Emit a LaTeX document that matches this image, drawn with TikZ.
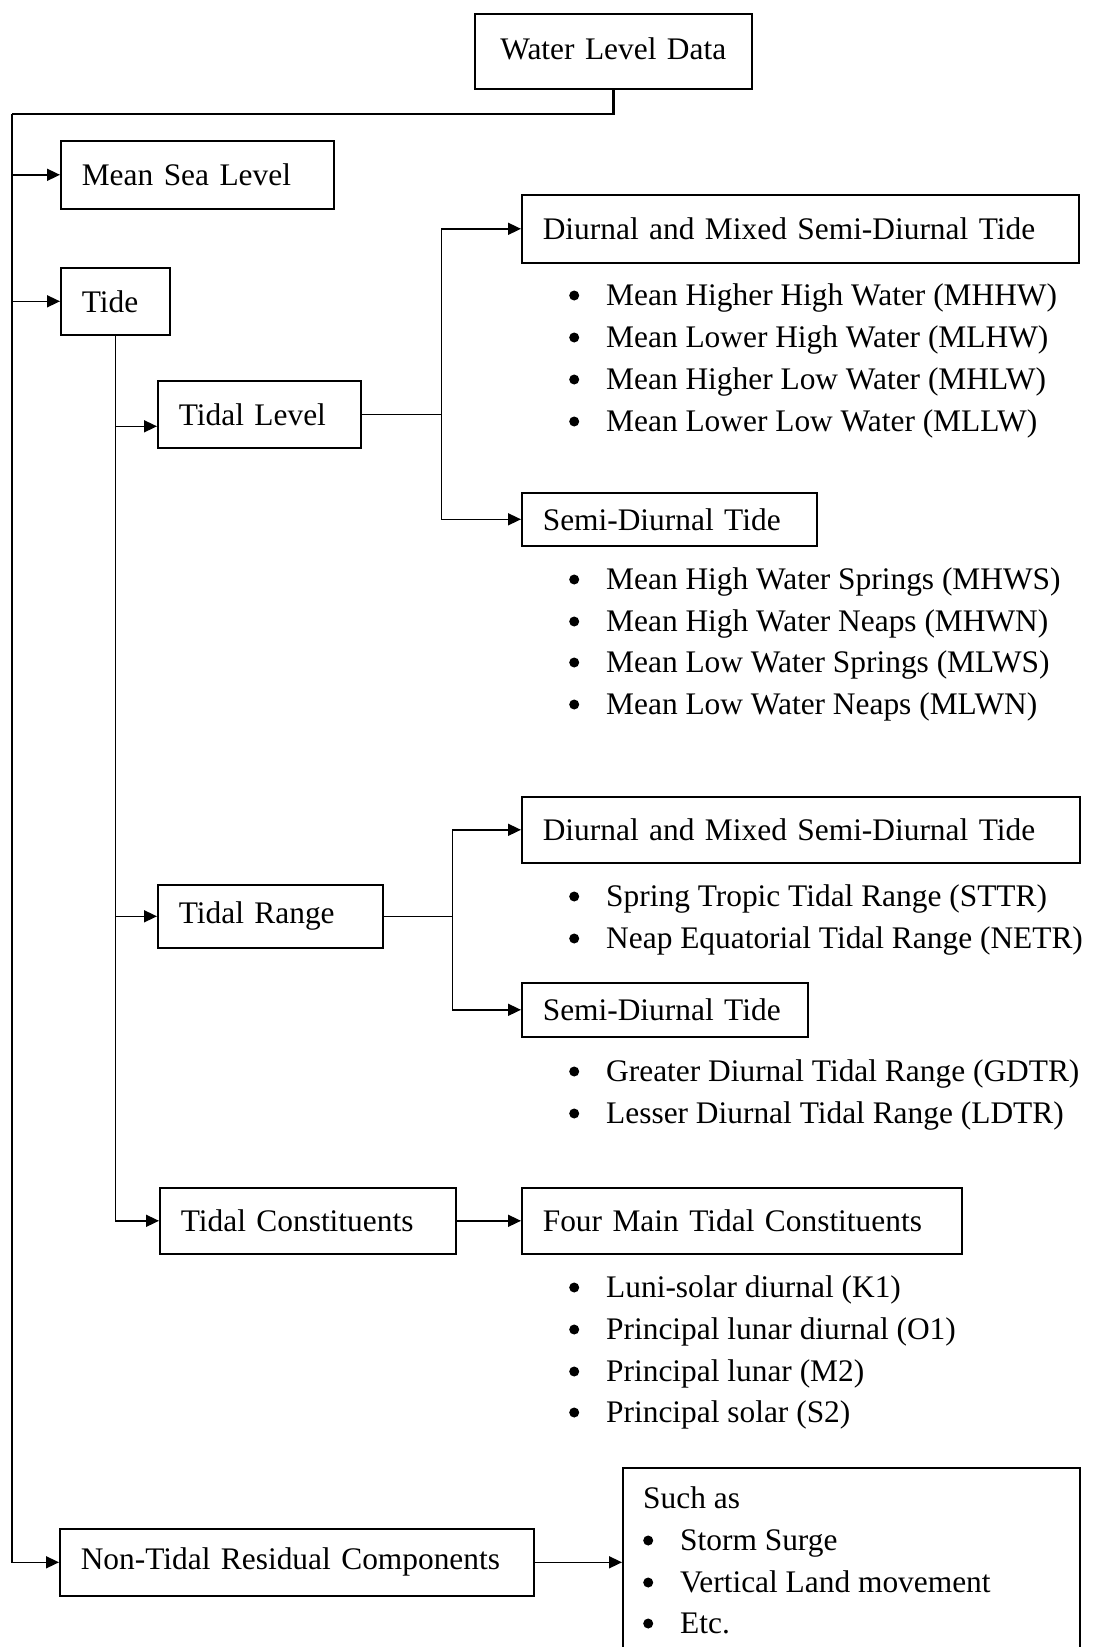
\documentclass[tikz,border=0pt]{standalone}
\usepackage{fontspec}
\setmainfont{Liberation Serif}
\usetikzlibrary{arrows.meta}
\begin{document}
\begin{tikzpicture}[x=1pt,y=-1pt,
  box/.style={draw, line width=1.6pt, rectangle, anchor=north west, inner xsep=21pt, inner ysep=0pt, align=left, font=\fontsize{31.4}{38}\selectfont},
  item/.style={anchor=base west, inner sep=0pt, font=\fontsize{31.4}{38}\selectfont},
  conn/.style={line width=1.6pt},
  arr/.style={conn, -{Triangle[length=13pt,width=12pt]}},
]
\useasboundingbox (0,0) rectangle (1096,1647);
\fill[white] (0,0) rectangle (1096,1647);
\newcommand{\bul}[1]{\makebox[37pt][l]{\raisebox{4.5pt}{\tikz[x=1pt,y=1pt]\fill (0,0) circle (5pt);}}#1}

% boxes
\node[box, align=center, inner xsep=0pt, text width=277pt, minimum height=75pt] (wld) at (474,13) {\raisebox{6pt}{Water Level Data}};
\node[box, text width=231pt, minimum height=68pt] (msl) at (60,140) {Mean Sea Level};
\node[box, text width=67pt, minimum height=67pt] (tide) at (60,267) {Tide};
\node[box, text width=161pt, minimum height=67pt] (tl) at (157,380) {Tidal Level};
\node[box, text width=515pt, minimum height=68pt] (dm1) at (521,194) {Diurnal and Mixed Semi-Diurnal Tide};
\node[box, text width=253pt, minimum height=53pt] (sd1) at (521,492) {Semi-Diurnal Tide};
\node[box, text width=183pt, minimum height=63pt] (tr) at (157,884) {Tidal Range};
\node[box, text width=516pt, minimum height=66pt] (dm2) at (521,796) {Diurnal and Mixed Semi-Diurnal Tide};
\node[box, text width=244pt, minimum height=54pt] (sd2) at (521,982) {Semi-Diurnal Tide};
\node[box, text width=254pt, minimum height=66pt] (tc) at (159,1187) {Tidal Constituents};
\node[box, text width=398pt, minimum height=66pt] (fm) at (521,1187) {Four Main Tidal Constituents};
\node[box, text width=432pt, minimum height=67pt] (ntrc) at (59,1528) {Non-Tidal Residual Components};
\node[draw, line width=1.6pt, anchor=north west, inner sep=0pt, minimum width=457pt, minimum height=220pt] (such) at (622,1467) {};

% lists
\node[item] (a1) at (569,305) {\bul{Mean Higher High Water (MHHW)}};
\node[item] (a2) at (569,347) {\bul{Mean Lower High Water (MLHW)}};
\node[item] (a3) at (569,389) {\bul{Mean Higher Low Water (MHLW)}};
\node[item] (a4) at (569,431) {\bul{Mean Lower Low Water (MLLW)}};

\node[item] (b1) at (569,589) {\bul{Mean High Water Springs (MHWS)}};
\node[item] (b2) at (569,631) {\bul{Mean High Water Neaps (MHWN)}};
\node[item] (b3) at (569,672) {\bul{Mean Low Water Springs (MLWS)}};
\node[item] (b4) at (569,714) {\bul{Mean Low Water Neaps (MLWN)}};

\node[item] (c1) at (569,906) {\bul{Spring Tropic Tidal Range (STTR)}};
\node[item] (c2) at (569,948) {\bul{Neap Equatorial Tidal Range (NETR)}};

\node[item] (d1) at (569,1081) {\bul{Greater Diurnal Tidal Range (GDTR)}};
\node[item] (d2) at (569,1123) {\bul{Lesser Diurnal Tidal Range (LDTR)}};

\node[item] (e1) at (569,1297) {\bul{Luni-solar diurnal (K1)}};
\node[item] (e2) at (569,1339) {\bul{Principal lunar diurnal (O1)}};
\node[item] (e3) at (569,1381) {\bul{Principal lunar (M2)}};
\node[item] (e4) at (569,1422) {\bul{Principal solar (S2)}};

\node[item] (f0) at (643,1508) {Such as};
\node[item] (f1) at (643,1550) {\bul{Storm Surge}};
\node[item] (f2) at (643,1592) {\bul{Vertical Land movement}};
\node[item] (f3) at (643,1633) {\bul{Etc.}};

% connectors
\coordinate (s0) at (12,114);
\draw[line width=2.4pt] (wld.south) |- (s0);
\draw[arr] (s0) |- (ntrc.west);
\draw[arr] (s0 |- msl.west) -- (msl.west);
\draw[arr] (s0 |- tide.west) -- (tide.west);
\draw[arr] (tide.south) |- (tc.west);
\coordinate (tlin) at ([yshift=-12pt]tl.west);
\draw[arr] (tide.south |- tlin) -- (tlin);
\draw[arr] (tide.south |- tr.west) -- (tr.west);
\coordinate (j1) at ([xshift=80pt]tl.east);
\draw[conn] (tl.east) -- (j1);
\draw[arr] (j1) |- (dm1.west);
\draw[arr] (j1) |- (sd1.west);
\coordinate (j2) at ([xshift=69pt]tr.east);
\draw[conn] (tr.east) -- (j2);
\draw[arr] (j2) |- (dm2.west);
\draw[arr] (j2) |- (sd2.west);
\draw[arr] (tc.east) -- (fm.west);
\draw[arr] (ntrc.east) -- (ntrc.east -| such.west);
\end{tikzpicture}
\end{document}
